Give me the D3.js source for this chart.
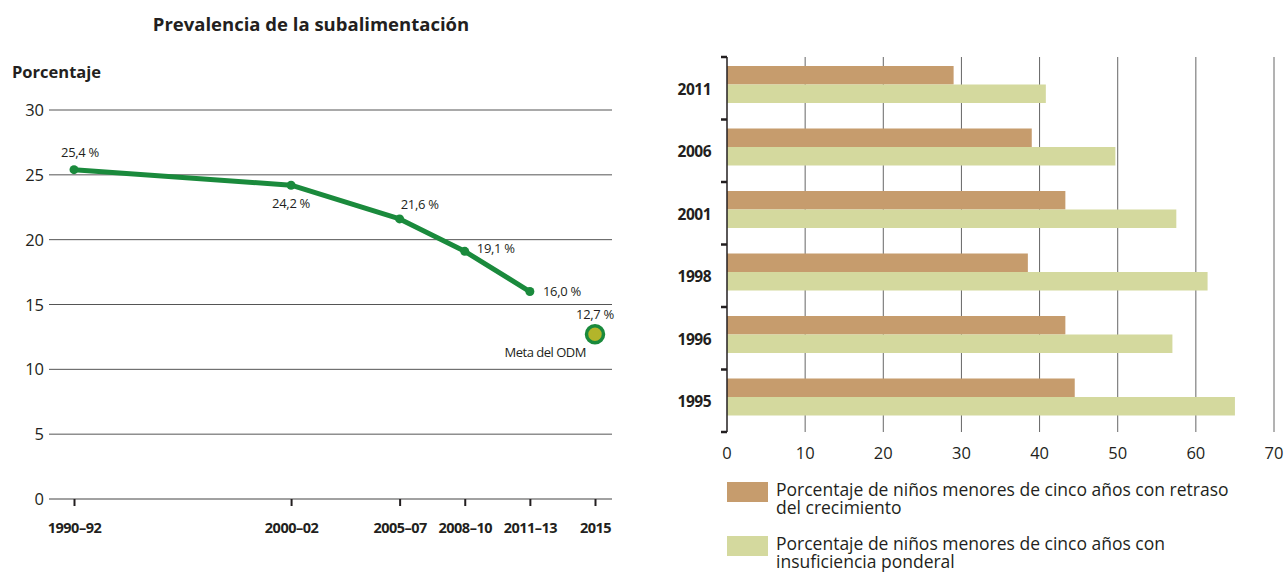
<!DOCTYPE html>
<html><head><meta charset="utf-8">
<script src="https://cdn.jsdelivr.net/npm/d3@7"></script>
<style>body{margin:0;background:#fff;}svg{display:block;font-family:"Open Sans",sans-serif;}</style>
</head><body>
<svg id="c" width="1287" height="581"></svg>
<script>
// Left chart data
const periods = ["1990–92","2000–02","2005–07","2008–10","2011–13","2015"];
const periodMid = [1991, 2001, 2006, 2009, 2012, 2015];
const prevalence = [25.4, 24.2, 21.6, 19.1, 16.0];
const prevalenceLabels = ["25,4 %","24,2 %","21,6 %","19,1 %","16,0 %"];
const target = 12.7;
const targetLabel = "12,7 %";
const yTicks = [0,5,10,15,20,25,30];

// Right chart data
const years = ["2011","2006","2001","1998","1996","1995"];
const stunting = [29.0, 39.0, 43.3, 38.5, 43.3, 44.5];
const underweight = [40.8, 49.7, 57.5, 61.5, 57.0, 65.0];
const xTicks = [0,10,20,30,40,50,60,70];
const legendLabels = [
  ["Porcentaje de niños menores de cinco años con retraso","del crecimiento"],
  ["Porcentaje de niños menores de cinco años con","insuficiencia ponderal"]
];

const svg = d3.select("#c");
const txt = "#231f20";

// ---------- Left chart ----------
const L = svg.append("g");
const x = d3.scaleLinear().domain([1991, 2015]).range([74, 595]);
const y = d3.scaleLinear().domain([0, 30]).range([499, 110]);

L.append("text").attr("x", 311).attr("y", 31).attr("text-anchor","middle")
  .attr("font-size",18.5).attr("font-weight","bold").attr("fill",txt).text("Prevalencia de la subalimentación");
L.append("text").attr("x", 12).attr("y", 78)
  .attr("font-size",16.5).attr("font-weight","bold").attr("fill",txt).text("Porcentaje");

L.selectAll("line.grid").data(yTicks).join("line").attr("class","grid")
  .attr("x1",49).attr("x2",612).attr("y1",d=>y(d)).attr("y2",d=>y(d))
  .attr("stroke", d=> d===0 ? "#444" : "#555").attr("stroke-width",1);
L.selectAll("text.yt").data(yTicks).join("text").attr("class","yt")
  .attr("x",44).attr("y",d=>y(d)+6).attr("text-anchor","end")
  .attr("font-size",16.5).attr("fill",txt).text(d=>d);

const xAxis = d3.axisBottom(x).tickValues(periodMid).tickSize(7).tickFormat((d,i)=>periods[i]);
const gx = L.append("g").attr("transform",`translate(0,${y(0)})`).call(xAxis);
gx.select(".domain").remove();
gx.selectAll(".tick line").attr("stroke","#231f20").attr("stroke-width",2);
gx.selectAll(".tick text").attr("font-size",14.5).attr("font-weight","bold").attr("fill",txt)
  .attr("font-family","'Open Sans',sans-serif").attr("y",24).attr("dy","0.71em").attr("letter-spacing","-0.5");

const green = "#1a8a3c";
const pts = prevalence.map((v,i)=>[periodMid[i], v]);
L.append("path").datum(pts).attr("fill","none").attr("stroke",green).attr("stroke-width",5)
  .attr("stroke-linejoin","round")
  .attr("d", d3.line().x(d=>x(d[0])).y(d=>y(d[1])));
L.selectAll("circle.pt").data(pts).join("circle").attr("class","pt")
  .attr("cx",d=>x(d[0])).attr("cy",d=>y(d[1])).attr("r",4.5).attr("fill",green);

const labOff = [[-13,-13],[-19,23],[1,-10],[12,2],[13,4]];
L.selectAll("text.pl").data(pts).join("text").attr("class","pl")
  .attr("x",(d,i)=>x(d[0])+labOff[i][0]).attr("y",(d,i)=>y(d[1])+labOff[i][1])
  .attr("font-size",13).attr("fill",txt).attr("letter-spacing","-0.3").text((d,i)=>prevalenceLabels[i]);

L.append("circle").attr("cx",x(2015)).attr("cy",y(target)).attr("r",8.5).attr("fill","#b3b52a")
  .attr("stroke",green).attr("stroke-width",3.5);
L.append("text").attr("x",x(2015)).attr("y",y(target)-15).attr("text-anchor","middle")
  .attr("font-size",13).attr("fill",txt).attr("letter-spacing","-0.3").text(targetLabel);
L.append("text").attr("x",x(2015)-9).attr("y",y(target)+23).attr("text-anchor","end")
  .attr("font-size",13).attr("fill",txt).attr("letter-spacing","-0.5").text("Meta del ODM");

// ---------- Right chart ----------
const R = svg.append("g");
const bx = d3.scaleLinear().domain([0,70]).range([727,1274]);
const by = d3.scaleBand().domain(years).range([57,432]);
const barH = 18.5;

R.selectAll("line.vg").data(xTicks.slice(1)).join("line").attr("class","vg")
  .attr("x1",d=>bx(d)).attr("x2",d=>bx(d)).attr("y1",57).attr("y2",432)
  .attr("stroke","#666").attr("stroke-width",1);

R.selectAll("rect.st").data(years).join("rect").attr("class","st")
  .attr("x",bx(0)).attr("y",d=>by(d)+9).attr("height",barH)
  .attr("width",(d,i)=>bx(stunting[i])-bx(0)).attr("fill","#c69c6d");
R.selectAll("rect.uw").data(years).join("rect").attr("class","uw")
  .attr("x",bx(0)).attr("y",d=>by(d)+9+barH).attr("height",barH)
  .attr("width",(d,i)=>bx(underweight[i])-bx(0)).attr("fill","#d4d99e");

// y axis line and boundary ticks
R.append("line").attr("x1",bx(0)).attr("x2",bx(0)).attr("y1",57).attr("y2",432)
  .attr("stroke","#231f20").attr("stroke-width",1.5);
const bounds = years.map(d=>by(d)).concat([432]);
R.selectAll("line.yb").data(bounds).join("line").attr("class","yb")
  .attr("x1",bx(0)-6).attr("x2",bx(0)).attr("y1",d=>d).attr("y2",d=>d)
  .attr("stroke","#231f20").attr("stroke-width",2.5);
R.selectAll("text.yl").data(years).join("text").attr("class","yl")
  .attr("x",711).attr("y",d=>by(d)+9+barH+10).attr("text-anchor","end")
  .attr("font-size",15.5).attr("font-weight","bold").attr("fill",txt).attr("letter-spacing","-0.5").text(d=>d);

R.selectAll("text.xl").data(xTicks).join("text").attr("class","xl")
  .attr("x",d=>bx(d)).attr("y",459).attr("text-anchor","middle")
  .attr("font-size",16.5).attr("fill",txt).text(d=>d);

// legend
const legColors = ["#c69c6d","#d4d99e"];
const legY = [482, 536];
legendLabels.forEach((lines,i)=>{
  R.append("rect").attr("x",727).attr("y",legY[i]).attr("width",41).attr("height",20).attr("fill",legColors[i]);
  lines.forEach((ln,j)=>R.append("text").attr("x",776).attr("y",legY[i]+14+j*18)
    .attr("font-size",17.5).attr("fill",txt).text(ln));
});
</script>
</body></html>
